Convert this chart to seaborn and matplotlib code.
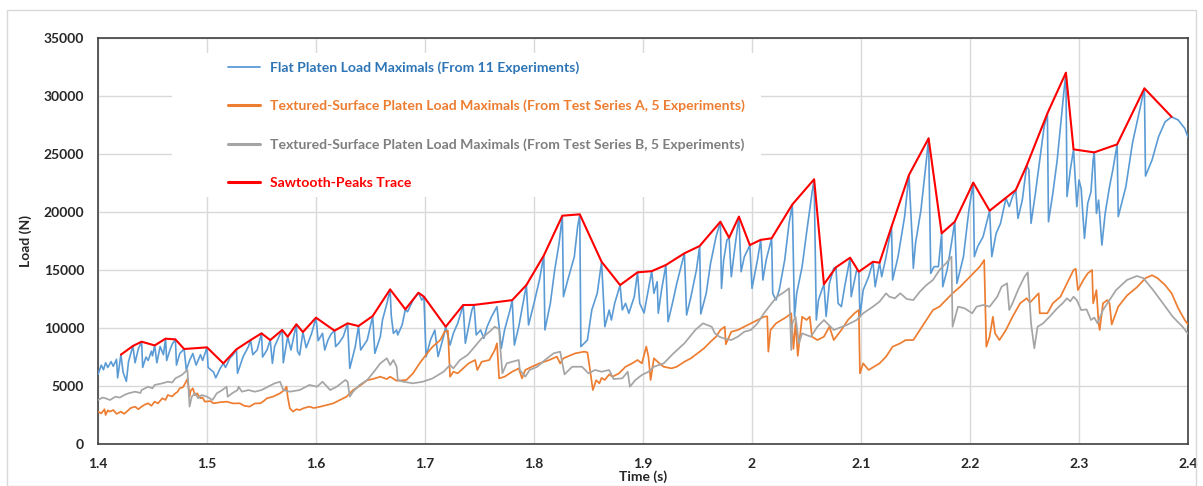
import matplotlib
matplotlib.use("Agg")
import matplotlib.pyplot as plt
import pandas as pd
import seaborn as sns
from matplotlib.lines import Line2D
from matplotlib.patches import Rectangle

# ---- Flat platen load maximals (11 experiments) ----
flat_t = [
    1.400, 1.403, 1.405, 1.407, 1.409, 1.412, 1.414, 1.417, 1.418, 1.421,
    1.423, 1.426, 1.428, 1.432, 1.434, 1.437, 1.440, 1.441, 1.444, 1.446,
    1.449, 1.450, 1.452, 1.454, 1.457, 1.460, 1.462, 1.463, 1.466, 1.468,
    1.471, 1.472, 1.475, 1.479, 1.481, 1.484, 1.487, 1.490, 1.494, 1.496,
    1.500, 1.501, 1.506, 1.508, 1.512, 1.515, 1.517, 1.521, 1.524, 1.527,
    1.528, 1.533, 1.538, 1.540, 1.542, 1.546, 1.550, 1.551, 1.555, 1.558,
    1.560, 1.562, 1.566, 1.569, 1.570, 1.572, 1.574, 1.577, 1.582, 1.583,
    1.585, 1.588, 1.591, 1.596, 1.600, 1.602, 1.606, 1.608, 1.611, 1.614,
    1.617, 1.618, 1.621, 1.625, 1.629, 1.631, 1.636, 1.639, 1.641, 1.647,
    1.652, 1.654, 1.657, 1.659, 1.661, 1.665, 1.668, 1.669, 1.671, 1.674,
    1.675, 1.679, 1.682, 1.684, 1.689, 1.694, 1.697, 1.699, 1.701, 1.705,
    1.709, 1.712, 1.717, 1.719, 1.723, 1.726, 1.730, 1.735, 1.737, 1.740,
    1.743, 1.745, 1.747, 1.751, 1.754, 1.757, 1.761, 1.766, 1.768, 1.770,
    1.773, 1.778, 1.780, 1.782, 1.786, 1.791, 1.793, 1.795, 1.800, 1.805,
    1.809, 1.810, 1.815, 1.819, 1.823, 1.826, 1.827, 1.831, 1.837, 1.840,
    1.842, 1.843, 1.849, 1.853, 1.858, 1.862, 1.865, 1.869, 1.871, 1.874,
    1.879, 1.881, 1.884, 1.887, 1.892, 1.895, 1.897, 1.901, 1.904, 1.908,
    1.910, 1.913, 1.914, 1.917, 1.921, 1.923, 1.927, 1.931, 1.938, 1.940,
    1.944, 1.949, 1.952, 1.953, 1.958, 1.962, 1.967, 1.971, 1.972, 1.974,
    1.977, 1.979, 1.981, 1.984, 1.988, 1.990, 1.993, 1.996, 1.998, 2.000,
    2.005, 2.008, 2.010, 2.013, 2.018, 2.019, 2.022, 2.025, 2.030, 2.034,
    2.037, 2.039, 2.041, 2.046, 2.050, 2.055, 2.057, 2.059, 2.061, 2.064,
    2.066, 2.068, 2.071, 2.075, 2.077, 2.079, 2.082, 2.085, 2.090, 2.091,
    2.096, 2.098, 2.099, 2.102, 2.107, 2.111, 2.113, 2.117, 2.119, 2.123,
    2.128, 2.129, 2.134, 2.140, 2.144, 2.147, 2.148, 2.150, 2.155, 2.160,
    2.162, 2.164, 2.167, 2.171, 2.174, 2.175, 2.179, 2.183, 2.186, 2.188,
    2.194, 2.199, 2.203, 2.204, 2.207, 2.212, 2.218, 2.220, 2.224, 2.228,
    2.233, 2.236, 2.239, 2.242, 2.244, 2.248, 2.252, 2.254, 2.256, 2.260,
    2.264, 2.268, 2.271, 2.272, 2.276, 2.280, 2.283, 2.286, 2.288, 2.289,
    2.292, 2.295, 2.298, 2.300, 2.302, 2.305, 2.308, 2.311, 2.313, 2.314,
    2.316, 2.318, 2.321, 2.324, 2.328, 2.331, 2.335, 2.336, 2.343, 2.349,
    2.355, 2.360, 2.361, 2.367, 2.373, 2.379, 2.385, 2.391, 2.397, 2.400,
]
flat_load = [
    6000, 6800, 6400, 7000, 6600, 7100, 6700, 7300, 5700, 7700,
    6200, 5400, 7100, 8450, 7000, 8200, 8820, 6600, 7500, 7200,
    8000, 7600, 8500, 7000, 8400, 7700, 9080, 7200, 8100, 8600,
    9020, 6800, 7800, 8190, 6400, 7200, 7800, 6800, 7700, 7200,
    8330, 6600, 6200, 5700, 6500, 6950, 6600, 7400, 7700, 8160,
    6100, 7500, 8400, 8960, 7700, 8100, 9540, 7500, 8100, 8960,
    6950, 8400, 9250, 9830, 7000, 8100, 9250, 8100, 10320, 8000,
    7670, 9650, 8300, 9540, 10890, 8900, 9540, 8100, 8960, 9500,
    9770, 8400, 8700, 9250, 10400, 6520, 8390, 10170, 8100, 8960,
    11030, 7820, 8680, 9250, 10690, 12100, 13330, 11120, 9540, 9830,
    9400, 10260, 11610, 11400, 12400, 13040, 12400, 12700, 7530, 8960,
    9830, 7530, 9250, 10110, 8530, 9540, 10400, 11980, 8680, 10110,
    11550, 11990, 9400, 9830, 9110, 10110, 10970, 11840, 10110, 8250,
    9830, 11550, 12400, 8530, 10110, 12700, 13700, 10260, 12130, 14140,
    16250, 9830, 12130, 15000, 17300, 19680, 12700, 14140, 16150, 18730,
    19800, 8390, 8960, 11550, 12990, 15710, 10110, 11550, 10690, 12130,
    13700, 11550, 12130, 11270, 12700, 14800, 12130, 11300, 12840, 14900,
    12990, 13990, 11270, 13270, 15430, 10540, 12130, 13850, 16440, 11120,
    12700, 15000, 17070, 11210, 12990, 15580, 17870, 19160, 13420, 15860,
    17590, 17780, 14420, 16720, 19600, 14850, 16150, 16720, 17150, 13420,
    15860, 17600, 14140, 15860, 17730, 12990, 12410, 13270, 15860, 19020,
    20650, 10970, 12990, 15290, 18160, 21610, 22820, 10690, 12410, 13270,
    13770, 11000, 13850, 15150, 15230, 12130, 11840, 13560, 16060, 12700,
    15000, 14850, 10970, 13270, 14420, 15710, 13560, 15630, 14420, 16150,
    18730, 14140, 16150, 19600, 23190, 17590, 15150, 17300, 20170, 24480,
    26350, 14710, 15290, 15290, 18160, 13560, 15000, 17300, 19160, 13850,
    16150, 20170, 22530, 16150, 17010, 17870, 20110, 16150, 18160, 19020,
    21200, 20460, 21330, 21900, 19450, 21030, 24000, 23620, 19020, 21610,
    24480, 27350, 28500, 19160, 21610, 24480, 27350, 30230, 32010, 21330,
    23620, 25400, 20460, 22760, 22000, 17730, 20750, 21750, 24480, 25140,
    19880, 21030, 17150, 19880, 22180, 23620, 25830, 19600, 22180, 25920,
    28500, 30660, 23100, 24480, 26490, 27780, 28200, 27930, 27210, 26450,
]

# ---- Textured-surface platen, test series A (5 experiments) ----
series_a_t = [
    1.400, 1.403, 1.406, 1.407, 1.409, 1.411, 1.414, 1.417, 1.418, 1.421,
    1.424, 1.428, 1.430, 1.434, 1.437, 1.440, 1.443, 1.446, 1.449, 1.452,
    1.455, 1.459, 1.462, 1.464, 1.468, 1.471, 1.473, 1.475, 1.478, 1.480,
    1.482, 1.483, 1.484, 1.485, 1.487, 1.489, 1.491, 1.494, 1.496, 1.498,
    1.503, 1.506, 1.512, 1.518, 1.524, 1.530, 1.534, 1.539, 1.544, 1.549,
    1.552, 1.555, 1.561, 1.567, 1.571, 1.573, 1.574, 1.576, 1.579, 1.582,
    1.585, 1.589, 1.594, 1.598, 1.604, 1.610, 1.616, 1.622, 1.628, 1.634,
    1.640, 1.647, 1.652, 1.659, 1.665, 1.668, 1.674, 1.680, 1.683, 1.689,
    1.695, 1.702, 1.707, 1.714, 1.718, 1.721, 1.723, 1.726, 1.730, 1.735,
    1.740, 1.746, 1.748, 1.752, 1.759, 1.764, 1.766, 1.768, 1.773, 1.780,
    1.786, 1.789, 1.792, 1.798, 1.805, 1.814, 1.821, 1.824, 1.827, 1.838,
    1.846, 1.849, 1.851, 1.854, 1.857, 1.860, 1.862, 1.865, 1.869, 1.872,
    1.878, 1.884, 1.890, 1.895, 1.899, 1.903, 1.905, 1.907, 1.910, 1.915,
    1.919, 1.926, 1.931, 1.938, 1.944, 1.950, 1.956, 1.962, 1.967, 1.971,
    1.975, 1.976, 1.981, 1.987, 1.993, 1.999, 2.005, 2.011, 2.014, 2.015,
    2.017, 2.022, 2.027, 2.032, 2.036, 2.038, 2.040, 2.042, 2.046, 2.050,
    2.053, 2.055, 2.060, 2.066, 2.071, 2.075, 2.082, 2.088, 2.094, 2.098,
    2.099, 2.102, 2.105, 2.107, 2.112, 2.117, 2.123, 2.129, 2.136, 2.141,
    2.148, 2.154, 2.160, 2.166, 2.172, 2.178, 2.184, 2.191, 2.197, 2.203,
    2.209, 2.213, 2.215, 2.218, 2.221, 2.223, 2.227, 2.233, 2.239, 2.246,
    2.252, 2.255, 2.260, 2.263, 2.264, 2.271, 2.276, 2.283, 2.289, 2.295,
    2.297, 2.299, 2.304, 2.308, 2.312, 2.313, 2.316, 2.318, 2.319, 2.322,
    2.326, 2.328, 2.330, 2.336, 2.344, 2.353, 2.361, 2.367, 2.372, 2.379,
    2.385, 2.391, 2.397, 2.400,
]
series_a_load = [
    2790, 2640, 3000, 2500, 2900, 2790, 2930, 2600, 2640, 2790,
    2600, 2930, 3100, 3220, 3000, 3220, 3400, 3510, 3300, 3650,
    3500, 3940, 3800, 4220, 4100, 4370, 4500, 4800, 4900, 5230,
    5600, 4940, 4080, 4600, 4800, 4200, 4370, 3940, 4000, 3650,
    3700, 3510, 3600, 3650, 3500, 3510, 3300, 3220, 3500, 3510,
    3700, 3940, 4100, 4370, 4650, 4940, 4080, 3080, 2790, 3000,
    2930, 3100, 3220, 3100, 3220, 3360, 3510, 3790, 4080, 4650,
    5000, 5500, 5600, 5800, 5600, 5800, 5450, 5500, 5520, 6090,
    6950, 7820, 8390, 8960, 9680, 9770, 5800, 6230, 6090, 6520,
    6950, 7240, 6380, 7090, 7240, 8100, 8680, 5660, 5800, 6230,
    6520, 5660, 6380, 6660, 6950, 7240, 7530, 6950, 7390, 7820,
    7960, 7900, 6660, 4650, 5500, 5230, 5700, 5520, 6000, 5800,
    6090, 6660, 6950, 7240, 6950, 8400, 7530, 5520, 7390, 6950,
    6660, 6520, 6660, 7090, 7390, 7820, 8250, 8820, 9250, 9830,
    10110, 8600, 9680, 9830, 10110, 10400, 10690, 10970, 11000, 7960,
    9830, 10400, 10690, 10970, 11270, 8200, 10500, 7600, 10970, 10690,
    10970, 9250, 8960, 9250, 10110, 8960, 9830, 10690, 11270, 11550,
    6090, 6950, 6600, 6380, 6660, 6950, 7530, 8390, 8680, 8960,
    8960, 9830, 10690, 11550, 11840, 12410, 12990, 13560, 14140, 14710,
    15290, 15860, 8390, 9250, 10970, 9540, 8960, 9830, 10970, 12130,
    12560, 12200, 12700, 12990, 11270, 11270, 12130, 12700, 13850, 15000,
    15100, 13270, 14140, 14710, 15000, 12130, 13270, 10400, 9830, 12130,
    12410, 12130, 10300, 11840, 12800, 13500, 14300, 14550, 14300, 13700,
    12990, 11700, 10690, 10300,
]

# ---- Textured-surface platen, test series B (5 experiments) ----
series_b_t = [
    1.400, 1.404, 1.407, 1.411, 1.416, 1.420, 1.424, 1.428, 1.434, 1.439,
    1.440, 1.446, 1.450, 1.452, 1.459, 1.464, 1.468, 1.471, 1.477, 1.481,
    1.482, 1.483, 1.484, 1.486, 1.489, 1.492, 1.495, 1.500, 1.505, 1.509,
    1.514, 1.518, 1.519, 1.523, 1.528, 1.529, 1.532, 1.538, 1.544, 1.550,
    1.556, 1.562, 1.567, 1.570, 1.576, 1.585, 1.594, 1.601, 1.606, 1.613,
    1.619, 1.627, 1.629, 1.631, 1.634, 1.640, 1.647, 1.652, 1.659, 1.665,
    1.668, 1.671, 1.674, 1.675, 1.680, 1.689, 1.698, 1.707, 1.717, 1.723,
    1.726, 1.732, 1.739, 1.743, 1.752, 1.761, 1.764, 1.768, 1.769, 1.771,
    1.775, 1.780, 1.786, 1.787, 1.792, 1.796, 1.803, 1.810, 1.818, 1.824,
    1.826, 1.828, 1.835, 1.844, 1.850, 1.856, 1.862, 1.869, 1.873, 1.881,
    1.886, 1.888, 1.893, 1.899, 1.905, 1.910, 1.919, 1.928, 1.938, 1.948,
    1.955, 1.959, 1.963, 1.966, 1.970, 1.974, 1.981, 1.987, 1.993, 1.999,
    2.005, 2.011, 2.018, 2.023, 2.030, 2.034, 2.036, 2.037, 2.040, 2.043,
    2.046, 2.054, 2.060, 2.066, 2.069, 2.075, 2.087, 2.096, 2.102, 2.111,
    2.117, 2.123, 2.126, 2.131, 2.136, 2.142, 2.148, 2.154, 2.160, 2.166,
    2.172, 2.178, 2.183, 2.184, 2.189, 2.195, 2.202, 2.206, 2.212, 2.218,
    2.225, 2.229, 2.234, 2.236, 2.239, 2.244, 2.250, 2.253, 2.256, 2.259,
    2.262, 2.267, 2.273, 2.280, 2.285, 2.289, 2.292, 2.295, 2.298, 2.302,
    2.307, 2.311, 2.314, 2.317, 2.322, 2.328, 2.334, 2.344, 2.353, 2.359,
    2.368, 2.377, 2.386, 2.395, 2.400,
]
series_b_load = [
    3790, 4000, 3940, 3790, 4080, 4000, 4220, 4370, 4510, 4400,
    4650, 4940, 4800, 5090, 5230, 5370, 5300, 5660, 5950, 6300,
    6400, 4940, 3220, 4080, 4370, 3940, 4220, 4080, 3790, 4370,
    4650, 4940, 4080, 4370, 4650, 4940, 4510, 4650, 4510, 4650,
    4940, 5230, 5370, 4650, 4510, 4650, 5090, 4940, 5370, 4650,
    4940, 5520, 5370, 4080, 4510, 5090, 5520, 6090, 6950, 7390,
    6810, 7240, 6660, 5520, 5370, 5230, 5370, 5660, 6230, 6810,
    6520, 7240, 7670, 8100, 9110, 9830, 10110, 9900, 8390, 6090,
    6950, 7090, 7240, 6380, 5800, 6380, 6660, 7240, 7820, 7960,
    6950, 6000, 6660, 6660, 6090, 6380, 6230, 6380, 5600, 5660,
    6230, 4940, 5520, 5950, 6230, 6660, 6950, 7820, 8680, 9830,
    10400, 10260, 10110, 9540, 9250, 9110, 8960, 9250, 9680, 9830,
    10400, 11270, 12130, 12700, 13130, 13420, 8100, 10400, 10970, 8680,
    9540, 9250, 10110, 10690, 10400, 9830, 10260, 10690, 11270, 11840,
    12270, 12990, 12700, 12560, 12990, 12500, 12410, 13130, 13700, 14140,
    15000, 15580, 16150, 10110, 11840, 11700, 11270, 11840, 11980, 11840,
    12700, 13560, 13850, 11550, 12130, 13270, 14420, 14800, 10400, 8250,
    10110, 10400, 10970, 11700, 12130, 12560, 12300, 12700, 12400, 11550,
    11600, 10690, 10900, 10400, 11550, 12410, 13270, 14140, 14480, 14300,
    13270, 12130, 10970, 10110, 9500,
]

# ---- Sawtooth-peaks trace: the local maxima of the flat-platen curve ----
peaks_t = [
    1.421, 1.432, 1.440, 1.452, 1.462, 1.471, 1.479, 1.500, 1.515, 1.527,
    1.540, 1.550, 1.558, 1.569, 1.574, 1.582, 1.588, 1.600, 1.617, 1.629,
    1.639, 1.652, 1.668, 1.682, 1.694, 1.699, 1.719, 1.735, 1.745, 1.780,
    1.793, 1.809, 1.826, 1.842, 1.862, 1.879, 1.895, 1.908, 1.921, 1.938,
    1.952, 1.971, 1.979, 1.988, 1.998, 2.008, 2.018, 2.037, 2.057, 2.066,
    2.077, 2.090, 2.098, 2.111, 2.117, 2.128, 2.144, 2.162, 2.174, 2.186,
    2.203, 2.218, 2.242, 2.252, 2.271, 2.288, 2.295, 2.314, 2.335, 2.360,
    2.385,
]
peaks_load = [
    7700, 8450, 8820, 8500, 9080, 9020, 8190, 8330, 6950, 8160,
    8960, 9540, 8960, 9830, 9250, 10320, 9650, 10890, 9770, 10400,
    10170, 11030, 13330, 11610, 13040, 12700, 10110, 11980, 11990, 12400,
    13700, 16250, 19680, 19800, 15710, 13700, 14800, 14900, 15430, 16440,
    17070, 19160, 17780, 19600, 17150, 17600, 17730, 20650, 22820, 13770,
    15230, 16060, 14850, 15710, 15630, 18730, 23190, 26350, 18160, 19160,
    22530, 20110, 21900, 24000, 28500, 32010, 25400, 25140, 25830, 30660,
    28200,
]

x_ticks = [1.4, 1.5, 1.6, 1.7, 1.8, 1.9, 2.0, 2.1, 2.2, 2.3, 2.4]
y_ticks = [0, 5000, 10000, 15000, 20000, 25000, 30000, 35000]

labels = [
    "Flat Platen Load Maximals (From 11 Experiments)",
    "Textured-Surface Platen Load Maximals (From Test Series A, 5 Experiments)",
    "Textured-Surface Platen Load Maximals (From Test Series B, 5 Experiments)",
    "Sawtooth-Peaks Trace",
]
line_colors = ["#5B9BD5", "#ED7D31", "#A5A5A5", "#FF0000"]
text_colors = ["#2E75B6", "#ED7D31", "#7F7F7F", "#FF0000"]

sns.set_style("white")
plt.rcParams["font.family"] = ["Lato", "DejaVu Sans"]
plt.rcParams["font.weight"] = "bold"
FS = 10.0
LEG_FS = 10.1

W, H = 1203, 486
fig = plt.figure(figsize=(W / 100, H / 100), dpi=100)
fig.patches.append(Rectangle((7 / W, 0.0), 1189 / W, 476 / H, transform=fig.transFigure,
                             fill=False, edgecolor="#D9D9D9", linewidth=1.0))
ax = fig.add_axes([98 / W, (H - 444) / H, 1090 / W, 406 / H])

frames = [
    pd.DataFrame({"t": flat_t, "load": flat_load}),
    pd.DataFrame({"t": series_a_t, "load": series_a_load}),
    pd.DataFrame({"t": series_b_t, "load": series_b_load}),
    pd.DataFrame({"t": peaks_t, "load": peaks_load}),
]
widths = [1.2, 1.25, 1.25, 1.5]
for i, df in enumerate(frames):
    sns.lineplot(data=df, x="t", y="load", ax=ax, sort=False, estimator=None,
                 color=line_colors[i], linewidth=widths[i], legend=False, zorder=3 + i)

ax.set_xlim(1.4, 2.4)
ax.set_ylim(0, 35000)
ax.set_xticks(x_ticks)
ax.set_xticklabels([f"{v:g}" for v in x_ticks])
ax.set_yticks(y_ticks)
ax.set_yticklabels([str(v) for v in y_ticks])
ax.tick_params(axis="x", length=4, width=1, color="#404040", pad=6, labelsize=FS)
ax.tick_params(axis="y", length=0, pad=10, labelsize=FS)
for lab in ax.get_xticklabels() + ax.get_yticklabels():
    lab.set_fontweight("bold")
ax.grid(True, color="#D9D9D9", linewidth=1.0)
ax.set_axisbelow(True)
for s in ax.spines.values():
    s.set_color("#404040")
    s.set_linewidth(1.2)

ax.set_xlabel("Time (s)", fontsize=FS, fontweight="bold")
ax.set_ylabel("Load (N)", fontsize=FS, fontweight="bold")
ax.xaxis.set_label_coords(0.5, -0.066)
ax.yaxis.set_label_coords(-0.061, 0.5)

# white panel behind the legend hides the gridlines there
ax.add_patch(Rectangle((0.068, 0.608), 0.540, 0.355, transform=ax.transAxes,
                       facecolor="white", edgecolor="none", zorder=1))
handles = [Line2D([], [], color=line_colors[0], linewidth=1.3),
           Line2D([], [], color=line_colors[1], linewidth=2.2),
           Line2D([], [], color=line_colors[2], linewidth=2.2),
           Line2D([], [], color=line_colors[3], linewidth=2.2)]
leg = ax.legend(handles, labels, loc="upper left", bbox_to_anchor=(0.119, 0.943),
                frameon=False, borderpad=0, borderaxespad=0, handlelength=2.3,
                handletextpad=0.75, labelspacing=1.84,
                prop={"size": LEG_FS, "weight": "bold"}, labelcolor=text_colors)

fig.savefig("out.png", dpi=100, facecolor="white")
